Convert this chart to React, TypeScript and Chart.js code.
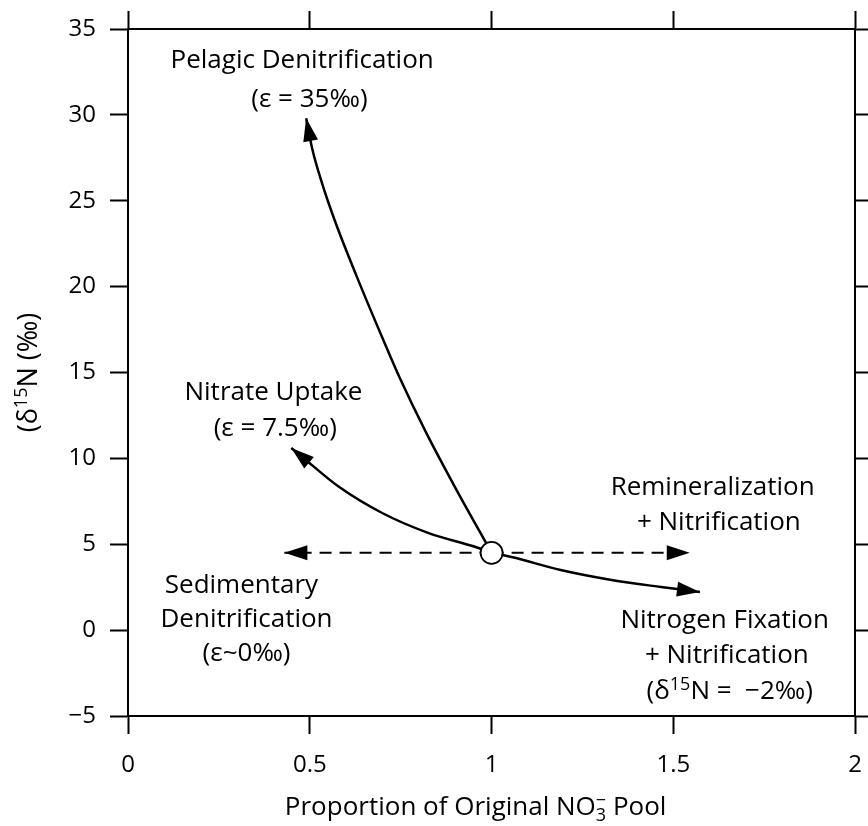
import React, { useEffect, useRef } from "react";
import { Chart, registerables } from "chart.js";

Chart.register(...registerables);

// ---- Data ----
const pelagicX = [1, 0.9, 0.82, 0.745, 0.704, 0.627, 0.573, 0.534, 0.507, 0.49];
const pelagicY = [4.5, 8.3, 11.5, 14.8, 16.8, 20.7, 23.6, 26.0, 28.0, 29.8];

const uptakeX = [1, 0.956, 0.827, 0.699, 0.581, 0.499, 0.449];
const uptakeY = [4.5, 4.84, 5.65, 6.82, 8.33, 9.73, 10.6];

const fixationX = [1, 1.055, 1.19, 1.33, 1.466, 1.573];
const fixationY = [4.5, 4.26, 3.5, 2.92, 2.51, 2.22];

const sedimentaryX = [1, 0.43];
const sedimentaryY = [4.5, 4.5];

const remineralX = [1, 1.545];
const remineralY = [4.5, 4.5];

const initialX = [1];
const initialY = [4.5];

const xTicks = [0, 0.5, 1, 1.5, 2];
const yTicks = [-5, 0, 5, 10, 15, 20, 25, 30, 35];

const xTitle = "Proportion of Original NO_{3}^{−} Pool";
const yTitle = "(δ^{15}N (‰)";

// annotation text lines, anchored in data units (center x, baseline y)
const annotations = [
  { x: 0.479, y: 32.73, text: "Pelagic Denitrification" },
  { x: 0.499, y: 30.46, text: "(ε = 35‰)" },
  { x: 0.4, y: 13.4, text: "Nitrate Uptake" },
  { x: 0.405, y: 11.3, text: "(ε = 7.5‰)" },
  { x: 1.608, y: 7.87, text: "Remineralization" },
  { x: 1.625, y: 5.83, text: "+ Nitrification" },
  { x: 0.312, y: 2.16, text: "Sedimentary" },
  { x: 0.326, y: 0.18, text: "Denitrification" },
  { x: 0.326, y: -1.8, text: "(ε~0‰)" },
  { x: 1.641, y: 0.12, text: "Nitrogen Fixation" },
  { x: 1.647, y: -1.91, text: "+ Nitrification" },
  { x: 1.655, y: -4.01, text: "(δ^{15}N =  −2‰)" },
];

const FONT = "'Open Sans'";
const ANN_SIZE = 26;
const TICK_SIZE = 24;
const TITLE_SIZE = 26;

type Seg = { t: string; m: number };

function parseRich(s: string): Seg[] {
  const out: Seg[] = [];
  const re = /\^\{([^}]*)\}|_\{([^}]*)\}|([^^_]+)/g;
  let m: RegExpExecArray | null;
  while ((m = re.exec(s))) {
    if (m[1] !== undefined) out.push({ t: m[1], m: 1 });
    else if (m[2] !== undefined) out.push({ t: m[2], m: -1 });
    else out.push({ t: m[3], m: 0 });
  }
  return out;
}

function drawRich(ctx: CanvasRenderingContext2D, s: string, cx: number, by: number, size: number) {
  const segs = parseRich(s);
  const normal = `${size}px ${FONT}`;
  const small = `${Math.round(size * 0.68)}px ${FONT}`;
  const items: { t: string; m: number; x: number }[] = [];
  let x = 0;
  let i = 0;
  while (i < segs.length) {
    const sg = segs[i];
    const nx = segs[i + 1];
    if (sg.m !== 0 && nx && nx.m !== 0 && nx.m !== sg.m) {
      ctx.font = small;
      const w1 = ctx.measureText(sg.t).width;
      const w2 = ctx.measureText(nx.t).width;
      items.push({ ...sg, x });
      items.push({ ...nx, x });
      x += Math.max(w1, w2);
      i += 2;
      continue;
    }
    ctx.font = sg.m === 0 ? normal : small;
    items.push({ ...sg, x });
    x += ctx.measureText(sg.t).width;
    i++;
  }
  const x0 = cx - x / 2;
  ctx.textAlign = "left";
  ctx.textBaseline = "alphabetic";
  for (const it of items) {
    ctx.font = it.m === 0 ? normal : small;
    const dy = it.m === 1 ? -size * 0.36 : it.m === -1 ? size * 0.22 : 0;
    ctx.fillText(it.t, x0 + it.x, by + dy);
  }
}

const arrowPlugin = {
  id: "arrowHeads",
  afterDatasetsDraw(chart: any) {
    const ctx = chart.ctx as CanvasRenderingContext2D;
    chart.data.datasets.forEach((ds: any, i: number) => {
      if (!ds.arrow) return;
      const meta = chart.getDatasetMeta(i);
      const pts = meta.data;
      const tip = pts[pts.length - 1];
      let px = tip.cp1x;
      let py = tip.cp1y;
      if (px === undefined || (Math.abs(px - tip.x) < 0.5 && Math.abs(py - tip.y) < 0.5)) {
        px = pts[pts.length - 2].x;
        py = pts[pts.length - 2].y;
      }
      const a = Math.atan2(tip.y - py, tip.x - px);
      const L = 23;
      const W = 7.5;
      const bx = tip.x - L * Math.cos(a);
      const by = tip.y - L * Math.sin(a);
      ctx.save();
      ctx.fillStyle = "#000";
      ctx.beginPath();
      ctx.moveTo(tip.x, tip.y);
      ctx.lineTo(bx + W * Math.sin(a), by - W * Math.cos(a));
      ctx.lineTo(bx - W * Math.sin(a), by + W * Math.cos(a));
      ctx.closePath();
      ctx.fill();
      ctx.restore();
    });
  },
};

const textPlugin = {
  id: "textLabels",
  afterDraw(chart: any) {
    const ctx = chart.ctx as CanvasRenderingContext2D;
    const xs = chart.scales.x;
    const ys = chart.scales.y;
    const area = chart.chartArea;
    ctx.save();
    ctx.fillStyle = "#000";
    for (const a of annotations) {
      drawRich(ctx, a.text, xs.getPixelForValue(a.x), ys.getPixelForValue(a.y), ANN_SIZE);
    }
    // x title
    drawRich(ctx, xTitle, (area.left + area.right) / 2 - 16, area.bottom + 99, TITLE_SIZE);
    // y title
    ctx.save();
    ctx.translate(area.left - 91, (area.top + area.bottom) / 2);
    ctx.rotate(-Math.PI / 2);
    drawRich(ctx, yTitle, 0, 0, 27);
    ctx.restore();
    ctx.restore();
  },
};

function pts(xs: number[], ys: number[]) {
  return xs.map((x, i) => ({ x, y: ys[i] }));
}

export default function App() {
  const ref = useRef<HTMLCanvasElement>(null);
  useEffect(() => {
    document.body.style.margin = "0";
    const canvas = ref.current!;
    const gridCfg = {
      drawOnChartArea: false,
      drawTicks: true,
      tickLength: 18,
      tickWidth: 2,
      tickColor: "#000",
      color: "#000",
    };
    const borderCfg = { display: true, color: "#000", width: 2 };
    const tickFont = { family: FONT, size: TICK_SIZE };
    const noPad = (s: any) => {
      s.paddingLeft = 0;
      s.paddingRight = 0;
      s.paddingTop = 0;
      s.paddingBottom = 0;
    };
    const curve = (xs: number[], ys: number[]) => ({
      data: pts(xs, ys),
      borderColor: "#000",
      borderWidth: 2.5,
      pointRadius: 0,
      cubicInterpolationMode: "monotone",
      fill: false,
      arrow: true,
      borderCapStyle: "butt",
    });
    const dashed = (xs: number[], ys: number[]) => ({
      data: pts(xs, ys),
      borderColor: "#000",
      borderWidth: 2,
      borderDash: [12, 8],
      pointRadius: 0,
      tension: 0,
      fill: false,
      arrow: true,
    });
    const chart = new Chart(canvas, {
      type: "line",
      data: {
        datasets: [
          {
            data: pts(initialX, initialY),
            showLine: false,
            pointRadius: 11,
            pointBackgroundColor: "#fff",
            pointBorderColor: "#000",
            pointBorderWidth: 1.8,
          } as any,
          curve(pelagicX, pelagicY) as any,
          curve(uptakeX, uptakeY) as any,
          curve(fixationX, fixationY) as any,
          dashed(sedimentaryX, sedimentaryY) as any,
          dashed(remineralX, remineralY) as any,
        ],
      },
      options: {
        responsive: false,
        animation: false,
        events: [],
        layout: { padding: 0 },
        plugins: { legend: { display: false }, tooltip: { enabled: false }, title: { display: false } },
        scales: {
          x: {
            type: "linear",
            position: "bottom",
            min: 0,
            max: 2,
            afterBuildTicks: (s: any) => {
              s.ticks = xTicks.map((v) => ({ value: v }));
            },
            afterFit: (s: any) => {
              s.height = 110;
              noPad(s);
            },
            ticks: {
              color: "#000",
              font: tickFont,
              padding: 17,
              maxRotation: 0,
              autoSkip: false,
              callback: (v: any) => String(v),
            },
            grid: gridCfg,
            border: borderCfg,
          },
          x2: {
            type: "linear",
            position: "top",
            min: 0,
            max: 2,
            afterBuildTicks: (s: any) => {
              s.ticks = xTicks.map((v) => ({ value: v }));
            },
            afterFit: (s: any) => {
              s.height = 29;
              noPad(s);
            },
            ticks: { display: false },
            grid: gridCfg,
            border: borderCfg,
          },
          y: {
            type: "linear",
            position: "left",
            min: -5,
            max: 35,
            afterBuildTicks: (s: any) => {
              s.ticks = yTicks.map((v) => ({ value: v }));
            },
            afterFit: (s: any) => {
              s.width = 128;
              noPad(s);
            },
            ticks: {
              color: "#000",
              font: tickFont,
              padding: 14,
              autoSkip: false,
              callback: (v: any) => (v < 0 ? "−" + Math.abs(v) : String(v)),
            },
            grid: gridCfg,
            border: borderCfg,
          },
          y2: {
            type: "linear",
            position: "right",
            min: -5,
            max: 35,
            afterBuildTicks: (s: any) => {
              s.ticks = yTicks.map((v) => ({ value: v }));
            },
            afterFit: (s: any) => {
              s.width = 10;
              noPad(s);
            },
            ticks: { display: false },
            grid: gridCfg,
            border: borderCfg,
          },
        },
      } as any,
      plugins: [arrowPlugin, textPlugin],
    });
    return () => chart.destroy();
  }, []);
  return (
    <canvas ref={ref} width={868} height={826} style={{ display: "block" }} />
  );
}
